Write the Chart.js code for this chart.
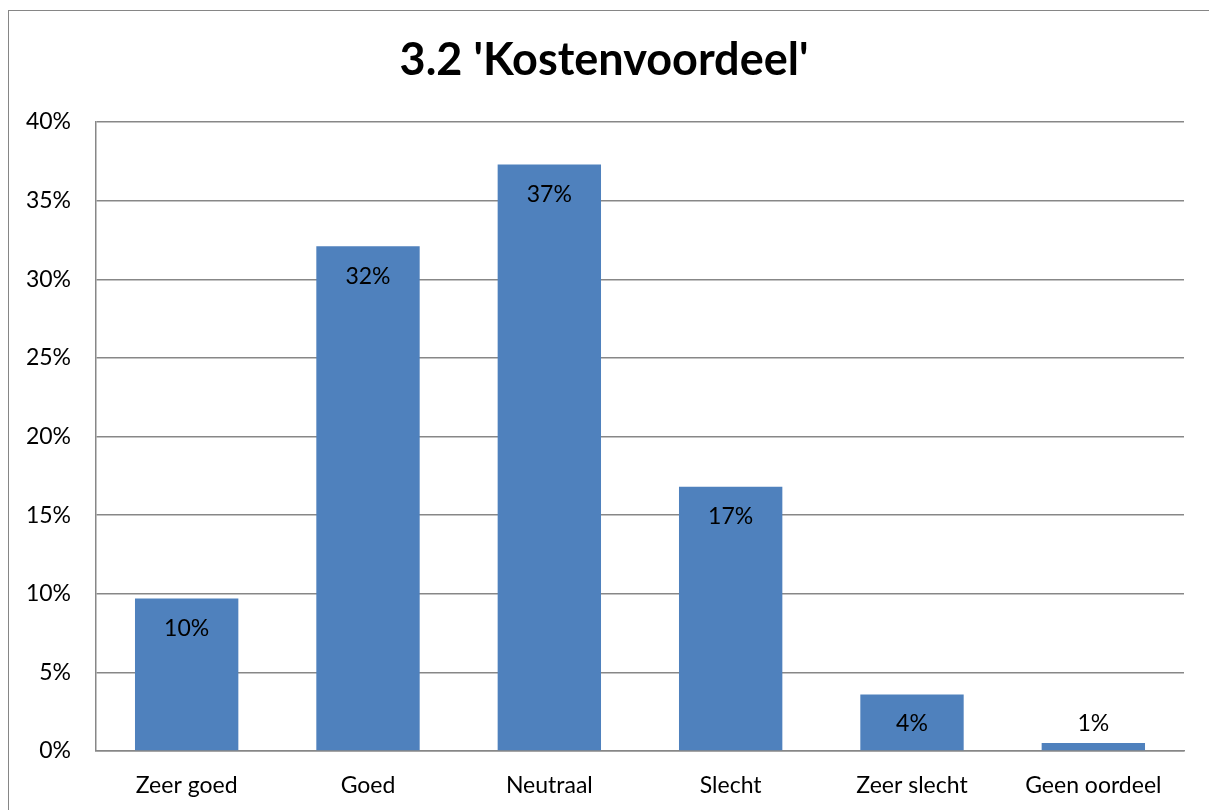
<!DOCTYPE html>
<html>
<head>
<meta charset="utf-8">
<script src="https://cdn.jsdelivr.net/npm/chart.js@4"></script>
<style>
  html, body { margin: 0; padding: 0; background: #fff; overflow: hidden; }
  #frame {
    position: absolute; left: 8px; top: 10px;
    width: 1300px; height: 900px;
    border: 1px solid #868686;
  }
  #wrap { position: absolute; left: 0; top: 0; width: 1209px; height: 810px; }
</style>
</head>
<body>
<div id="frame"></div>
<div id="wrap"><canvas id="myChart" width="1209" height="810"></canvas></div>
<script>
// categories and values (percent)
const categories = ['Zeer goed', 'Goed', 'Neutraal', 'Slecht', 'Zeer slecht', 'Geen oordeel'];
const percentages = [9.7, 32.1, 37.3, 16.8, 3.6, 0.51];
const tickValues = [0, 5, 10, 15, 20, 25, 30, 35, 40];

const gridGrey = '#878787';
const fontFamily = 'Lato, "Open Sans", sans-serif';

// value labels at the inside end of each bar
const barLabels = {
  id: 'barLabels',
  afterDatasetsDraw(chart) {
    const ctx = chart.ctx;
    const meta = chart.getDatasetMeta(0);
    ctx.save();
    ctx.font = '23px ' + fontFamily;
    ctx.fillStyle = '#000';
    ctx.textAlign = 'center';
    ctx.textBaseline = 'middle';
    meta.data.forEach((bar, i) => {
      const y = Math.min(bar.y + 30, bar.base - 27);
      ctx.fillText(Math.round(percentages[i]) + '%', bar.x, y);
    });
    ctx.restore();
  }
};

const data = {
  labels: categories,
  datasets: [{
    label: 'Kostenvoordeel',
    data: percentages,
    backgroundColor: '#4f81bd',
    borderWidth: 0,
    barPercentage: 0.57,
    categoryPercentage: 1
  }]
};

const config = {
  type: 'bar',
  data,
  options: {
    responsive: false,
    animation: false,
    layout: { padding: { left: 24, right: 25, top: 0, bottom: 0 } },
    plugins: {
      legend: { display: false },
      tooltip: { enabled: false },
      title: {
        display: true,
        text: "3.2 'Kostenvoordeel'",
        color: '#000',
        font: { family: fontFamily, size: 45, weight: 'bold' },
        padding: { top: 33, bottom: 35 }
      }
    },
    scales: {
      x: {
        grid: { display: false, drawTicks: false },
        border: { display: true, color: gridGrey, width: 1.5 },
        ticks: {
          color: '#000',
          font: { family: fontFamily, size: 23 },
          padding: 21,
          maxRotation: 0
        },
        afterFit: s => { s.height = 59; }
      },
      y: {
        min: 0,
        max: 40,
        afterBuildTicks: s => { s.ticks = tickValues.map(v => ({ value: v })); },
        grid: { color: gridGrey, lineWidth: 1.5, drawTicks: false },
        border: { display: true, color: gridGrey, width: 1.5 },
        ticks: {
          color: '#000',
          font: { family: fontFamily, size: 23 },
          padding: 25,
          callback: v => v + '%'
        },
        afterFit: s => { s.width = 72; }
      }
    }
  },
  plugins: [barLabels]
};

let myChart = new Chart(document.getElementById('myChart'), config);
</script>
</body>
</html>
